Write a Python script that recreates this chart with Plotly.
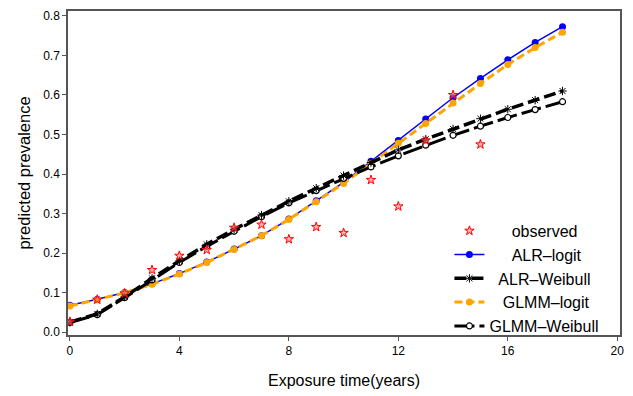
import plotly.graph_objects as go

years = list(range(0, 19))
obs_years = list(range(0, 16))

observed = [0.026, 0.082, 0.098, 0.157, 0.193, 0.208, 0.264, 0.272, 0.235, 0.266,
            0.251, 0.385, 0.318, 0.485, 0.600, 0.475]
alr_logit = [0.068, 0.083, 0.100, 0.122, 0.148, 0.177, 0.210, 0.244, 0.286, 0.332,
             0.379, 0.432, 0.485, 0.539, 0.593, 0.642, 0.689, 0.733, 0.773]
glmm_logit = [0.066, 0.082, 0.099, 0.121, 0.147, 0.176, 0.209, 0.244, 0.285, 0.330,
              0.376, 0.427, 0.478, 0.528, 0.580, 0.629, 0.677, 0.720, 0.759]
alr_weibull = [0.025, 0.046, 0.089, 0.136, 0.180, 0.222, 0.260, 0.296, 0.331, 0.364,
               0.396, 0.429, 0.461, 0.488, 0.514, 0.540, 0.564, 0.587, 0.610]
glmm_weibull = [0.024, 0.044, 0.087, 0.132, 0.176, 0.217, 0.255, 0.292, 0.327, 0.358,
                0.389, 0.418, 0.446, 0.473, 0.498, 0.521, 0.543, 0.563, 0.583]

x_ticks = [0, 4, 8, 12, 16, 20]
y_ticks = [0.0, 0.1, 0.2, 0.3, 0.4, 0.5, 0.6, 0.7, 0.8]
y_tick_labels = ["0.0", "0.1", "0.2", "0.3", "0.4", "0.5", "0.6", "0.7", "0.8"]

NB = "\u00a0"

fig = go.Figure()

fig.add_trace(go.Scatter(
    x=years, y=alr_logit, name=NB * 5 + "ALR–logit", mode="lines+markers",
    line=dict(color="#0000ff", width=1.5),
    marker=dict(symbol="circle", size=7, color="#0000ff"),
    legendrank=2))

fig.add_trace(go.Scatter(
    x=years, y=glmm_logit, name=NB * 3 + "GLMM–logit", mode="lines+markers",
    line=dict(color="#ffa500", width=3, dash="8px,4px"),
    marker=dict(symbol="circle", size=7, color="#ffa500"),
    legendrank=4))

fig.add_trace(go.Scatter(
    x=years, y=glmm_weibull, name="GLMM–Weibull", mode="lines+markers",
    line=dict(color="black", width=3, dash="20px,5px"),
    marker=dict(symbol="circle", size=6, color="white",
                line=dict(color="black", width=1.2)),
    legendrank=5))

fig.add_trace(go.Scatter(
    x=years, y=alr_weibull, name=NB * 2 + "ALR–Weibull", mode="lines+markers",
    line=dict(color="black", width=3.5, dash="12px,5px"),
    marker=dict(symbol="asterisk-open", size=7, color="black",
                line=dict(color="black", width=1)),
    legendrank=3))

fig.add_trace(go.Scatter(
    x=obs_years, y=observed, name=NB * 5 + "observed", mode="markers",
    marker=dict(symbol="star", size=7, color="rgba(255,120,120,0.6)",
                line=dict(color="#ff0000", width=1)),
    legendrank=1))

axis_common = dict(
    showline=True, linecolor="#555555", linewidth=1.5, mirror=True,
    ticks="outside", ticklen=4, tickcolor="#555555",
    showgrid=False, zeroline=False,
    tickfont=dict(family="Liberation Sans, Arial, sans-serif", size=12, color="black"),
)

fig.update_layout(
    width=633, height=396,
    margin=dict(l=68, r=11, t=9, b=61),
    paper_bgcolor="white", plot_bgcolor="white",
    font=dict(family="Liberation Sans, Arial, sans-serif", color="black"),
    xaxis=dict(range=[-0.07, 20.1], tickvals=x_ticks,
               title=dict(text="Exposure time(years)", font=dict(size=16), standoff=18),
               **axis_common),
    yaxis=dict(range=[-0.0075, 0.8126], tickvals=y_ticks, ticktext=y_tick_labels,
               title=dict(text="predicted prevalence", font=dict(size=16.5), standoff=8),
               **axis_common),
    legend=dict(x=0.691, y=0.374, xanchor="left", yanchor="top",
                bgcolor="rgba(0,0,0,0)", borderwidth=0,
                font=dict(size=16, color="black"),
                itemwidth=30, tracegroupgap=0),
    showlegend=True,
)

fig.write_html("out.html")
